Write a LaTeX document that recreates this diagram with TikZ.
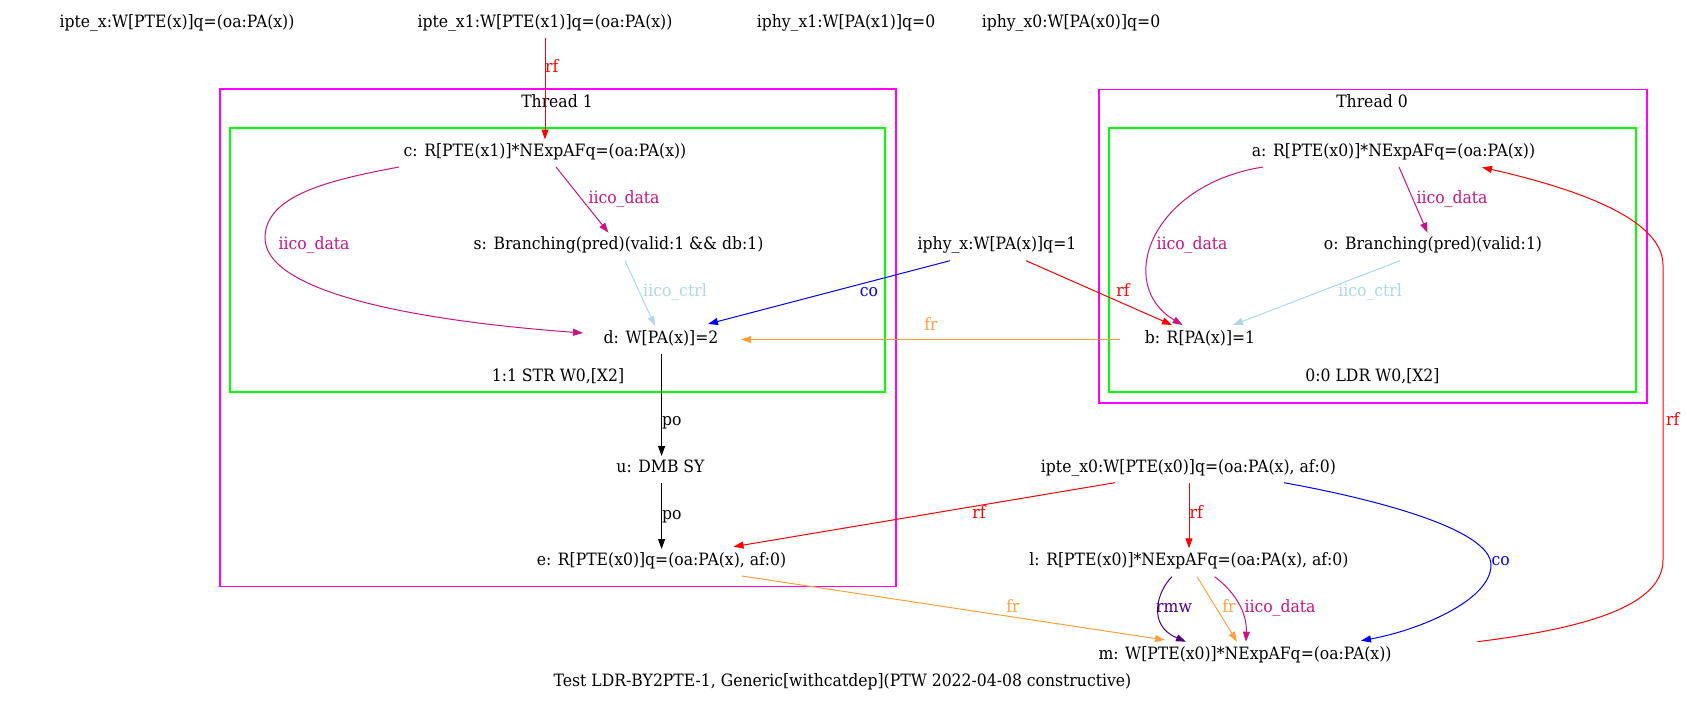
\documentclass[tikz,border=0pt]{standalone}
\usepackage{fontspec}
\setmainfont{DejaVu Serif}[FakeStretch=0.92]
\usetikzlibrary{calc,arrows.meta}
\definecolor{iicod}{HTML}{C71585}
\definecolor{iicoc}{HTML}{ADD8E6}
\definecolor{frc}{HTML}{FFA040}
\definecolor{rmwc}{HTML}{4B0082}
\definecolor{magbox}{HTML}{FF00FF}
\definecolor{grnbox}{HTML}{00FF00}
\tikzset{
  txt/.style={font=\fontsize{17}{20}\selectfont, inner sep=0pt, text height=12.6pt, text depth=3.8pt},
  ev/.style={txt},
  lab/.style={txt},
  edgeline/.style={line width=1pt, -{Triangle[length=10pt,width=7pt]}},
  rfE/.style={edgeline, red},
  coE/.style={edgeline, blue},
  frE/.style={edgeline, frc},
  poE/.style={edgeline, black},
  idE/.style={edgeline, iicod},
  icE/.style={edgeline, iicoc},
  rmwE/.style={edgeline, rmwc},
  threadbox/.style={draw=magbox, line width=1.3pt},
  instrbox/.style={draw=grnbox, line width=1.3pt},
}
\begin{document}
\begin{tikzpicture}[x=1pt,y=-1pt]
\useasboundingbox (0,0) rectangle (1687,707);
\fill[white] (0,0) rectangle (1687,707);

% clusters
\draw[threadbox] (220,89) rectangle (896,586.5);
\draw[instrbox] (230,128) rectangle (885,392);
\draw[threadbox] (1099,89.5) rectangle (1647,403);
\draw[instrbox] (1109,128) rectangle (1636,392);
\node[lab] (t1) at (557,103) {Thread 1};
\node[lab] (i1) at (558,377) {1:1 STR W0,[X2]};
\node[lab] (t0) at (1372,103) {Thread 0};
\node[lab] (i0) at (1372.5,377) {0:0 LDR W0,[X2]};

% nodes
\node[ev] (iptex) at (177,23) {ipte\_x:W[PTE(x)]q=(oa:PA(x))};
\node[ev] (iptex1) at (545,23) {ipte\_x1:W[PTE(x1)]q=(oa:PA(x))};
\node[ev] (iphyx1) at (846,23) {iphy\_x1:W[PA(x1)]q=0};
\node[ev] (iphyx0) at (1071,23) {iphy\_x0:W[PA(x0)]q=0};
\node[ev] (c) at (545,152) {c: R[PTE(x1)]*NExpAFq=(oa:PA(x))};
\node[ev] (s) at (618.5,245) {s: Branching(pred)(valid:1 \&\& db:1)};
\node[ev] (d) at (661,339) {d: W[PA(x)]=2};
\node[ev] (u) at (660.5,468) {u: DMB SY};
\node[ev] (e) at (661.5,561) {e: R[PTE(x0)]q=(oa:PA(x), af:0)};
\node[ev] (a) at (1393.5,152) {a: R[PTE(x0)]*NExpAFq=(oa:PA(x))};
\node[ev] (o) at (1433,245) {o: Branching(pred)(valid:1)};
\node[ev] (b) at (1200,339) {b: R[PA(x)]=1};
\node[ev] (iphyx) at (997,245) {iphy\_x:W[PA(x)]q=1};
\node[ev] (iptex0) at (1188.5,468) {ipte\_x0:W[PTE(x0)]q=(oa:PA(x), af:0)};
\node[ev] (l) at (1189,561) {l: R[PTE(x0)]*NExpAFq=(oa:PA(x), af:0)};
\node[ev] (m) at (1245,655) {m: W[PTE(x0)]*NExpAFq=(oa:PA(x))};
\node[ev] (cap) at (842.5,682) {Test LDR-BY2PTE-1, Generic[withcatdep](PTW 2022-04-08 constructive)};

% edges
\draw[rfE] ($(iptex1)+(0,15)$) -- ($(c)+(0,-12.5)$);
\node[lab, text=red, anchor=west] (l1) at (545,68) {rf};

\draw[idE] ($(c)+(11,15)$) -- ($(s)+(-10,-12.3)$);
\node[lab, text=iicod] (l2) at (624,199) {iico\_data};

\draw[idE] ($(c)+(-146,15)$) .. controls (330,180) and (265,195) .. (265,238)
  .. controls (265,285) and (380,318) .. ($(d)+(-78,-6)$);
\node[lab, text=iicod] (l3) at (314,245) {iico\_data};

\draw[icE] ($(s)+(6.5,15.7)$) -- ($(d)+(-6,-13)$);
\node[lab, text=iicoc] (l4) at (675,292) {iico\_ctrl};

\draw[coE] ($(iphyx)+(-47,15.7)$) -- ($(d)+(47,-15)$);
\node[lab, text=blue] (l5) at (869,292) {co};

\draw[frE] ($(b)+(-80,0.5)$) -- ($(d)+(80,0.5)$);
\node[lab, text=frc] (l6) at (931,326) {fr};

\draw[rfE] ($(iphyx)+(29,15.7)$) -- ($(b)+(-28,-14)$);
\node[lab, text=red] (l7) at (1123,292) {rf};

\draw[idE] ($(a)+(5.5,15)$) -- ($(o)+(-5.5,-12.3)$);
\node[lab, text=iicod] (l8) at (1452,199) {iico\_data};

\draw[idE] ($(a)+(-130.5,15)$) .. controls (1150,185) and (1115,285) .. ($(b)+(-17.4,-14)$);
\node[lab, text=iicod] (l9) at (1192,245) {iico\_data};

\draw[icE] ($(o)+(-33,15.7)$) -- ($(b)+(33,-14)$);
\node[lab, text=iicoc] (l10) at (1370,292) {iico\_ctrl};

\draw[poE] ($(d)+(0.6,15)$) -- ($(u)+(1.1,-12)$);
\node[lab, anchor=west] (l11) at (662,421) {po};

\draw[poE] ($(u)+(1.1,15.3)$) -- ($(e)+(0.1,-12)$);
\node[lab, anchor=west] (l12) at (662,515) {po};

\draw[rfE] ($(iptex0)+(-73.5,14.7)$) -- ($(e)+(72,-14.3)$);
\node[lab, text=red] (l13) at (979,514) {rf};

\draw[rfE] ($(iptex0)+(0.5,15)$) -- ($(l)+(0,-12.7)$);
\node[lab, text=red, anchor=west] (l14) at (1189.5,514) {rf};

\draw[coE] ($(iptex0)+(95.5,14.7)$) .. controls (1380,500) and (1491,530) .. (1491,565)
  .. controls (1491,600) and (1420,630) .. ($(m)+(116,-14.3)$);
\node[lab, text=blue, anchor=west] (l15) at (1491.5,561) {co};

\draw[frE] ($(e)+(80.5,15)$) -- ($(m)+(-80,-15)$);
\node[lab, text=frc] (l16) at (1013,608) {fr};

\draw[rmwE] ($(l)+(-17,15.7)$) .. controls (1158,590) and (1146,625) .. ($(m)+(-59,-13.3)$);
\node[lab, text=rmwc, anchor=west] (l17) at (1156,608) {rmw};

\draw[frE] ($(l)+(8,15.7)$) -- ($(m)+(-8,-13.3)$);
\node[lab, text=frc] (l18) at (1229,608) {fr};

\draw[idE] ($(l)+(25.6,15.7)$) .. controls (1235,592) and (1247,612) .. ($(m)+(1,-13.3)$);
\node[lab, text=iicod] (l19) at (1280,608) {iico\_data};

\draw[rfE] ($(m)+(232.5,-13.3)$) .. controls (1570,630) and (1663,610) .. (1663,560)
  -- (1663,265) .. controls (1663,215) and (1560,185) .. ($(a)+(88.5,15.3)$);
\node[lab, text=red, anchor=west] (l20) at (1666,421) {rf};
\end{tikzpicture}
\end{document}
